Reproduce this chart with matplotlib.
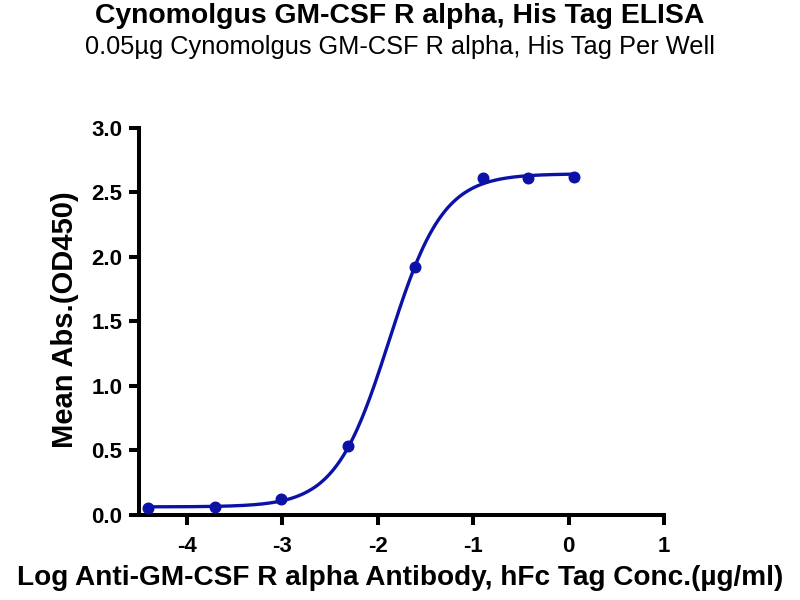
import numpy as np
import matplotlib
matplotlib.use("Agg")
import matplotlib.pyplot as plt

# ELISA data
log_conc = [-4.41, -3.71, -3.01, -2.31, -1.61, -0.90, -0.43, 0.06]
mean_abs = [0.05, 0.06, 0.12, 0.53, 1.92, 2.61, 2.61, 2.62]

title = "Cynomolgus GM-CSF R alpha, His Tag ELISA"
subtitle = "0.05\u00b5g Cynomolgus GM-CSF R alpha, His Tag Per Well"
xlabel = "Log Anti-GM-CSF R alpha Antibody, hFc Tag Conc.(\u00b5g/ml)"
ylabel = "Mean Abs.(OD450)"
xticks = [-4, -3, -2, -1, 0, 1]
yticks = [0.0, 0.5, 1.0, 1.5, 2.0, 2.5, 3.0]


def four_pl(x, bottom, top, ec50, hill):
    return bottom + (top - bottom) / (1 + 10 ** ((ec50 - x) * hill))


def fit_4pl(x, y):
    # crude grid search on ec50/hill, linear solve for bottom/top
    x = np.asarray(x)
    y = np.asarray(y)
    best = None
    for ec50 in np.linspace(-3, -1, 201):
        for hill in np.linspace(0.5, 3, 126):
            s = 1 / (1 + 10 ** ((ec50 - x) * hill))
            A = np.column_stack([1 - s, s])
            coef, *_ = np.linalg.lstsq(A, y, rcond=None)
            sse = np.sum((A @ coef - y) ** 2)
            if best is None or sse < best[0]:
                best = (sse, coef[0], coef[1], ec50, hill)
    return best[1:]


plt.rcParams["font.family"] = ["Liberation Sans", "DejaVu Sans"]
plt.rcParams["axes.unicode_minus"] = False

color = "#0c12a6"

fig = plt.figure(figsize=(8, 6), dpi=100)
ax = fig.add_axes([0.174, 0.142, 0.656, 0.645])

params = fit_4pl(log_conc, mean_abs)
xs = np.linspace(min(log_conc), max(log_conc), 300)
ax.plot(xs, four_pl(xs, *params), color=color, lw=2.4, zorder=2)
ax.scatter(log_conc, mean_abs, s=58, color=color, zorder=3)

ax.set_xlim(-4.5, 1)
ax.set_ylim(0, 3.0)
ax.set_xticks(xticks)
ax.set_xticklabels([str(t) for t in xticks])
ax.set_yticks(yticks)
ax.set_yticklabels([f"{t:.1f}" for t in yticks])

for side in ["top", "right"]:
    ax.spines[side].set_visible(False)
for side in ["left", "bottom"]:
    ax.spines[side].set_linewidth(2.9)
ax.tick_params(axis="both", direction="out", length=7, width=2.9,
               labelsize=16)
ax.tick_params(axis="x", pad=8)
ax.tick_params(axis="y", pad=5)
for lab in ax.get_xticklabels() + ax.get_yticklabels():
    lab.set_fontweight("bold")

fig.text(0.5, 0.036, xlabel, ha="center", va="center", fontsize=20.2, fontweight="bold")
fig.text(0.081, 0.467, ylabel, ha="center", va="center", rotation=90,
         fontsize=21, fontweight="bold")

fig.text(0.5, 0.973, title, ha="center", va="center", fontsize=20.4, fontweight="bold")
fig.text(0.5, 0.921, subtitle, ha="center", va="center", fontsize=18.3)

fig.savefig("out.png", dpi=100)
